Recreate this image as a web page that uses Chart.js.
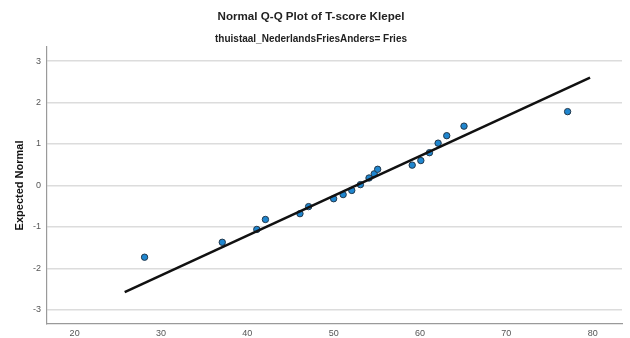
<!DOCTYPE html>
<html>
<head>
<meta charset="utf-8">
<script src="https://cdn.jsdelivr.net/npm/chart.js@4/dist/chart.umd.min.js"></script>
<style>
  html, body { margin: 0; padding: 0; background: #fff; }
  #wrap { width: 630px; height: 338px; }
</style>
</head>
<body>
<div id="wrap"><canvas id="qq"></canvas></div>
<script>
// observed T-scores and their expected normal values
var observed = [28.1, 37.1, 41.1, 42.1, 46.1, 47.1, 50.0, 51.1, 52.1, 53.1, 54.1, 54.7, 55.1, 59.1, 60.1, 61.1, 62.1, 63.1, 65.1, 77.1];
var expected = [-1.73, -1.37, -1.06, -0.82, -0.68, -0.51, -0.32, -0.22, -0.12, 0.02, 0.18, 0.28, 0.39, 0.49, 0.60, 0.79, 1.02, 1.20, 1.43, 1.78];

// reference line end points
var lineX = [25.8, 79.7];
var lineY = [-2.57, 2.60];

var xTicks = [20, 30, 40, 50, 60, 70, 80];
var yTicks = [-3, -2, -1, 0, 1, 2, 3];

var font = 'Liberation Sans, Arial, sans-serif';

var points = observed.map(function(v, i) { return {x: v, y: expected[i]}; });
var fit = lineX.map(function(v, i) { return {x: v, y: lineY[i]}; });

new Chart(document.getElementById('qq'), {
    type: 'scatter',
    data: {
        datasets: [{
            type: 'line',
            data: fit,
            borderColor: '#111',
            borderWidth: 2.6,
            pointRadius: 0,
            fill: false,
            order: 0
        }, {
            data: points,
            backgroundColor: '#1f86cf',
            borderColor: '#24384a',
            borderWidth: 1,
            pointRadius: 3.2,
            order: 1
        }]
    },
    options: {
        responsive: true,
        maintainAspectRatio: false,
        animation: false,
        layout: {padding: {left: 0, right: 8, top: 0, bottom: 0}},
        plugins: {
            legend: {display: false},
            tooltip: {enabled: false},
            title: {
                display: true,
                text: 'Normal Q-Q Plot of T-score Klepel',
                color: '#222',
                font: {family: font, size: 11.6, weight: 'bold'},
                padding: {top: 10, bottom: 6}
            },
            subtitle: {
                display: true,
                text: 'thuistaal_NederlandsFriesAnders= Fries',
                color: '#222',
                font: {family: font, size: 10, weight: 'bold'},
                padding: {top: 3, bottom: 2}
            }
        },
        scales: {
            x: {
                type: 'linear',
                min: 16.8,
                max: 83.4,
                afterBuildTicks: function(scale) {
                    scale.ticks = xTicks.map(function(v) { return {value: v}; });
                },
                afterFit: function(scale) { scale.height = 14; },
                grid: {display: false, drawTicks: false},
                border: {display: true, color: '#9a9a9a', width: 1.2},
                ticks: {color: '#555', font: {family: font, size: 9}, padding: 4, maxRotation: 0}
            },
            y: {
                type: 'linear',
                min: -3.34,
                max: 3.34,
                afterBuildTicks: function(scale) {
                    scale.ticks = yTicks.map(function(v) { return {value: v}; });
                },
                afterFit: function(scale) { scale.width = 47; },
                grid: {color: '#dcdcdc', lineWidth: 1.5, drawTicks: false},
                border: {display: true, color: '#9a9a9a', width: 1.2},
                ticks: {color: '#555', font: {family: font, size: 9}, padding: 6},
                title: {
                    display: true,
                    text: 'Expected Normal',
                    color: '#111',
                    font: {family: font, size: 11, weight: 'bold'},
                    padding: {top: 13, bottom: 0}
                }
            }
        }
    }
});
</script>
</body>
</html>
